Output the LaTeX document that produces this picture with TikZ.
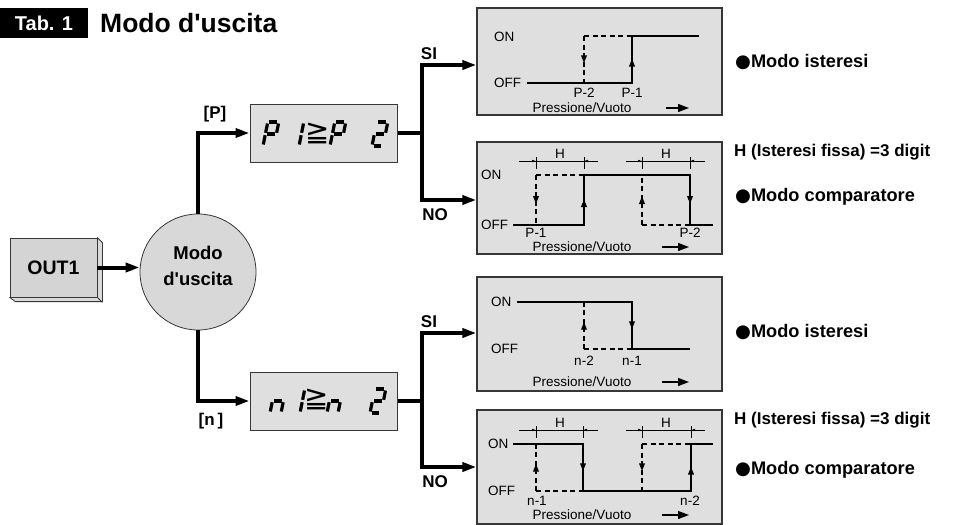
\documentclass[tikz,border=0pt]{standalone}
\usepackage{fontspec}
\setmainfont{Liberation Sans}
\newfontfamily\glyphfont{DejaVu Sans}
\usetikzlibrary{arrows.meta,decorations.markings}

\definecolor{panelgray}{RGB}{223,223,223}
\definecolor{circgray}{RGB}{216,216,216}
\definecolor{outgray}{RGB}{212,212,212}
\definecolor{edgegray}{RGB}{55,55,55}

% seven-segment pieces (local frame: width 11, height 24, baseline at y=0)
\newcommand\segA{\draw[segline] (1.6,-24) -- (9.4,-24);}
\newcommand\segB{\draw[segline] (11,-22.5) -- (11,-13.2);}
\newcommand\segC{\draw[segline] (11,-10.8) -- (11,-1.5);}
\newcommand\segD{\draw[segline] (1.6,0) -- (9.4,0);}
\newcommand\segE{\draw[segline] (0,-10.8) -- (0,-1.5);}
\newcommand\segF{\draw[segline] (0,-22.5) -- (0,-13.2);}
\newcommand\segG{\draw[segline] (1.6,-12) -- (9.4,-12);}
\newcommand\segdigit[3]{\begin{scope}[shift={(#1,#2)},xslant=0.2]#3\end{scope}}
\newcommand\blt{{\glyphfont ●}}

\tikzset{
  conn/.style={line width=4pt, -{Triangle[length=14pt,width=9pt]}},
  wire/.style={line width=4pt},
  dispbox/.style={draw=edgegray, fill=panelgray, line width=1pt,
    minimum width=147pt, minimum height=58pt, inner sep=0pt},
  panel/.style={draw=edgegray, fill=panelgray, line width=1.2pt,
    minimum width=245pt, inner sep=0pt},
  segline/.style={line width=3.2pt, line cap=butt},
  sig/.style={line width=2.4pt, line join=miter},
  hys/.style={line width=2.2pt, dash pattern=on 5pt off 3.5pt},
  midarr/.style={postaction={decorate}, decoration={markings,
    mark=at position #1 with {\arrow{Triangle[length=8pt,width=5.5pt]}}}},
  midarr/.default=0.58,
  dimline/.style={line width=0.6pt},
  dimtip/.style={line width=0.6pt, -{Latex[length=4pt,width=2.5pt]}},
  axisarr/.style={line width=1.2pt, -{Triangle[length=11pt,width=8pt]}},
  ctext/.style={font=\fontsize{13.5}{15}\selectfont, inner sep=0pt},
  rtext/.style={font=\fontsize{18.2}{20}\selectfont\bfseries, anchor=west, inner sep=0pt},
  htext/.style={font=\fontsize{17}{20}\selectfont\bfseries, anchor=west, inner sep=0pt},
  branch/.style={font=\fontsize{17}{20}\selectfont\bfseries, inner sep=0pt},
}

\begin{document}
\begin{tikzpicture}[x=1pt,y=-1pt]
\useasboundingbox (0,0) rectangle (954,525);

% heading
\node[fill=black, text=white, font=\fontsize{20}{24}\selectfont\bfseries,
  minimum width=88pt, minimum height=30pt, inner sep=0pt] (tab) at (44,23) {Tab. 1};
\node[anchor=west, inner sep=0pt, font=\fontsize{26.5}{28}\selectfont\bfseries]
  (title) at (100,23) {Modo d\textquotesingle uscita};

% OUT1 block with depth
\node[draw=edgegray, fill=outgray, line width=0.8pt, minimum width=87pt,
  minimum height=59pt, inner sep=0pt, font=\fontsize{19.5}{22}\selectfont\bfseries]
  (out) at (53.5,267.5) {OUT1};
\draw[draw=edgegray, fill=outgray!85!white, line width=0.8pt, line join=round]
  (out.north east) -- ++(5,5) -- ++(0,59) -- ++(-87,0) -- (out.south west)
  -- (out.south east) -- cycle;
\draw[edgegray, line width=0.8pt] (out.south east) -- ++(5,5);

% output mode selector
\node[circle, draw=edgegray, fill=circgray, line width=0.8pt, minimum size=116pt,
  inner sep=0pt] (mode) at (198,272) {};
\node[align=center, inner sep=0pt, font=\fontsize{18.5}{26}\selectfont\bfseries]
  (modetxt) at (198,266) {Modo\\d\textquotesingle uscita};

% displays
\node[dispbox] (pbox) at (323.5,133) {};
\node[dispbox] (nbox) at (323.5,401) {};

% P1 >= P2
\segdigit{263}{146}{\segA\segB\segF\segG\segE}
\segdigit{288}{146}{\segB\segC}
\node[inner sep=0pt, font=\glyphfont\fontsize{29}{29}\selectfont] (pge) at (317.5,133) {≧};
\segdigit{330}{146}{\segA\segB\segF\segG\segE}
\segdigit{372}{146}{\segA\segB\segG\segE\segD}

% n1 >= n2
\segdigit{270}{413}{\segG\segC\segE}
\segdigit{289}{413}{\segB\segC}
\node[inner sep=0pt, font=\glyphfont\fontsize{29}{29}\selectfont] (nge) at (316.5,399) {≧};
\segdigit{327}{413}{\segG\segC\segE}
\segdigit{370}{413}{\segA\segB\segG\segE\segD}

% chart panels
\node[panel, minimum height=107pt] (c1) at (599.5,61.5) {};
\node[panel, minimum height=112pt] (c2) at (599.5,198) {};
\node[panel, minimum height=114pt] (c3) at (599.5,334) {};
\node[panel, minimum height=114pt] (c4) at (599.5,467) {};

% connectors
\coordinate (j1) at (422,133);
\coordinate (j2) at (422,401);
\draw[conn] (out.east) -- (out.east -| mode.west);
\draw[conn] (mode.north) |- (pbox.west);
\draw[conn] (mode.south) |- (nbox.west);
\draw[wire] (pbox.east) -- (j1);
\draw[wire] (nbox.east) -- (j2);
\draw[conn] (j1) |- ([yshift=-3.5pt]c1.west);
\draw[conn] (j1) |- ([yshift=-2pt]c2.west);
\draw[conn] (j2) |- ([yshift=1pt]c3.west);
\draw[conn] (j2) |- (c4.west);

\node[inner sep=0pt, font=\fontsize{17}{18}\selectfont\bfseries] (lp) at (215,114) {[P]};
\node[inner sep=0pt, font=\fontsize{17}{18}\selectfont\bfseries] (ln) at (211,421) {[n\,]};
\node[branch] (si1) at (429,54) {SI};
\node[branch] (no1) at (435,215) {NO};
\node[branch] (si2) at (429,322) {SI};
\node[branch] (no2) at (435,482) {NO};

% chart 1: hysteresis mode, P
\node[ctext, anchor=west] (c1on) at (494,37) {ON};
\node[ctext, anchor=west] (c1off) at (494,83) {OFF};
\draw[hys] (584,36) -- (632,36);
\draw[hys, midarr] (584,36) -- (584,83);
\draw[sig] (527,83) -- (632,83) -- (632,36) -- (699,36);
\draw[sig, midarr=0.52] (632,83) -- (632,36);
\node[ctext] (c1a) at (584,93) {P-2};
\node[ctext] (c1b) at (632,93) {P-1};
\node[ctext] (c1x) at (582,108) {Pressione/Vuoto};
\draw[axisarr] (666,108) -- (689,108);

% chart 2: window comparator mode, P
\node[ctext, anchor=west] (c2on) at (481,175) {ON};
\node[ctext, anchor=west] (c2off) at (481,225) {OFF};
\draw[hys] (536,175) -- (584,175);
\draw[hys] (642,225) -- (690,225);
\draw[hys, midarr] (536,175) -- (536,225);
\draw[hys, midarr] (642,225) -- (642,175);
\draw[sig] (513,225) -- (584,225) -- (584,175) -- (690,175) -- (690,225) -- (713,225);
\draw[sig, midarr=0.52] (584,225) -- (584,175);
\draw[sig, midarr] (690,175) -- (690,225);
\draw[dimline] (519,161) -- (598,161) (536,157) -- (536,169) (584,157) -- (584,169);
\draw[dimline] (626,161) -- (705,161) (642,157) -- (642,169) (690,157) -- (690,169);
\draw[dimtip] (526,161) -- (536,161);
\draw[dimtip] (594,161) -- (584,161);
\draw[dimtip] (632,161) -- (642,161);
\draw[dimtip] (700,161) -- (690,161);
\node[ctext] (c2h1) at (560,154) {H};
\node[ctext] (c2h2) at (666,154) {H};
\node[ctext] (c2a) at (536,233) {P-1};
\node[ctext] (c2b) at (690,233) {P-2};
\node[ctext] (c2x) at (582,247) {Pressione/Vuoto};
\draw[axisarr] (662,247) -- (689,247);

% chart 3: hysteresis mode, n
\node[ctext, anchor=west] (c3on) at (491,302) {ON};
\node[ctext, anchor=west] (c3off) at (491,349) {OFF};
\draw[hys] (584,349) -- (632,349);
\draw[hys, midarr] (584,349) -- (584,302);
\draw[sig] (517,302) -- (632,302) -- (632,349) -- (690,349);
\draw[sig, midarr] (632,302) -- (632,349);
\node[ctext] (c3a) at (584,361) {n-2};
\node[ctext] (c3b) at (632,361) {n-1};
\node[ctext] (c3x) at (582,382) {Pressione/Vuoto};
\draw[axisarr] (662,382) -- (689,382);

% chart 4: window comparator mode, n
\node[ctext, anchor=west] (c4on) at (488,444) {ON};
\node[ctext, anchor=west] (c4off) at (488,491) {OFF};
\draw[hys] (536,491) -- (583,491);
\draw[hys] (642,444) -- (691,444);
\draw[hys, midarr] (536,491) -- (536,444);
\draw[hys, midarr] (642,444) -- (642,491);
\draw[sig] (513,444) -- (583,444) -- (583,491) -- (691,491) -- (691,444) -- (713,444);
\draw[sig, midarr] (583,444) -- (583,491);
\draw[sig, midarr=0.52] (691,491) -- (691,444);
\draw[dimline] (519,430) -- (598,430) (536,426) -- (536,438) (583,426) -- (583,438);
\draw[dimline] (626,430) -- (705,430) (642,426) -- (642,438) (691,426) -- (691,438);
\draw[dimtip] (526,430) -- (536,430);
\draw[dimtip] (593,430) -- (583,430);
\draw[dimtip] (632,430) -- (642,430);
\draw[dimtip] (701,430) -- (691,430);
\node[ctext] (c4h1) at (560,423) {H};
\node[ctext] (c4h2) at (666,423) {H};
\node[ctext] (c4a) at (537,501) {n-1};
\node[ctext] (c4b) at (690,501) {n-2};
\node[ctext] (c4x) at (582,515) {Pressione/Vuoto};
\draw[axisarr] (662,515) -- (689,515);

% mode captions
\node[rtext] (r1) at (735,62) {\blt Modo isteresi};
\node[htext] (r2) at (734,152) {H (Isteresi fissa) =3 digit};
\node[rtext] (r3) at (735,197) {\blt Modo comparatore};
\node[rtext] (r4) at (735,332) {\blt Modo isteresi};
\node[htext] (r5) at (734,420) {H (Isteresi fissa) =3 digit};
\node[rtext] (r6) at (735,470) {\blt Modo comparatore};
\end{tikzpicture}
\end{document}
